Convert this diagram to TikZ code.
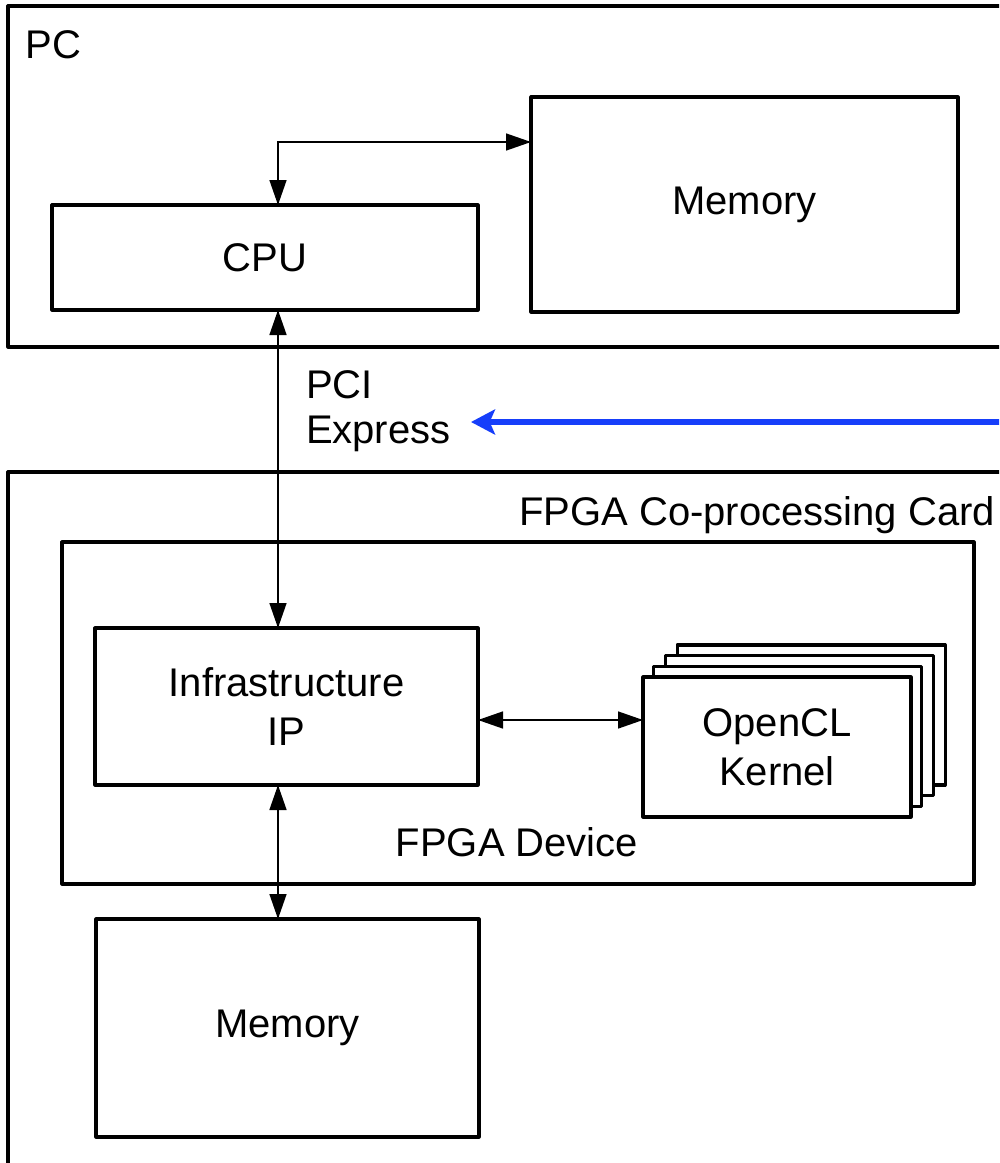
\documentclass[tikz,border=0pt]{standalone}
\usepackage{fontspec}
\setmainfont{Liberation Sans}
\usetikzlibrary{arrows.meta}
\definecolor{pcblue}{RGB}{22,62,250}
\begin{document}
\begin{tikzpicture}[x=0.75pt,y=-0.75pt,
  wh/.style 2 args={minimum width=#1*0.75pt,minimum height=#2*0.75pt},
  box/.style={draw, line width=2.4pt, fill=white, inner sep=0pt, outer sep=0pt, line join=round,
    font=\fontsize{30pt}{36.75pt}\selectfont, align=center},
  lbl/.style={inner sep=0pt, outer sep=0pt, font=\fontsize{30pt}{36.75pt}\selectfont},
  conn/.style={line width=1.1pt, {Triangle[length=18.75pt,width=12.75pt]}-{Triangle[length=18.75pt,width=12.75pt]}},
  blueline/.style={draw=pcblue, line width=4pt, -{Stealth[length=18pt,width=18.75pt,inset=4pt]}}]
\useasboundingbox (0,0) rectangle (999,1163);
\clip (0,0) rectangle (999,1163);
% PC
\node[box, wh={1004}{341}] (pc) at (510,176.5) {};
\node[lbl, anchor=base west] (pclbl) at (26,59) {PC};
\node[box, wh={426}{105}] (cpu) at (265,257.5) {CPU};
\node[box, wh={427}{215}] (mem1) at (744.5,204.5) {Memory};
% FPGA card
\node[box, wh={1004}{708}] (card) at (510,826) {};
\node[lbl, anchor=base east] (cardlbl) at (995,525) {FPGA Co-processing Card};
\node[box, wh={912}{342}] (dev) at (518,713) {};
\node[lbl, anchor=base] (devlbl) at (517,856) {FPGA Device};
\node[box, wh={383}{157}] (infra) at (286.5,706.5) {Infrastructure\\IP};
\foreach \i in {3,2,1}
  \node[box, wh={268}{140}] (k\i) at (776+11.7*\i,747-10.7*\i) {};
\node[box, wh={268}{140}] (k0) at (777,747) {OpenCL\\Kernel};
\node[box, wh={383}{218}] (mem2) at (287.5,1028) {Memory};
% connectors
\coordinate (bend) at (278,142);
\draw[conn] (cpu.north -| bend) -- (bend) -- (mem1.west |- bend);
\coordinate (busx) at (278,0);
\draw[conn] (cpu.south -| busx) -- (infra.north -| busx);
\coordinate (ky) at (0,720);
\draw[conn] (infra.east |- ky) -- (k0.west |- ky);
\draw[conn] (infra.south -| busx) -- (mem2.north -| busx);
\node[lbl, anchor=north west, align=left, font=\fontsize{30pt}{33.75pt}\selectfont] (pcie) at (306,371) {PCI\\Express};
% blue arrow
\coordinate (bluefrom) at (1010,422);
\coordinate (bluetip) at (471,422);
\draw[blueline] (bluefrom) -- (bluetip);
\end{tikzpicture}
\end{document}
